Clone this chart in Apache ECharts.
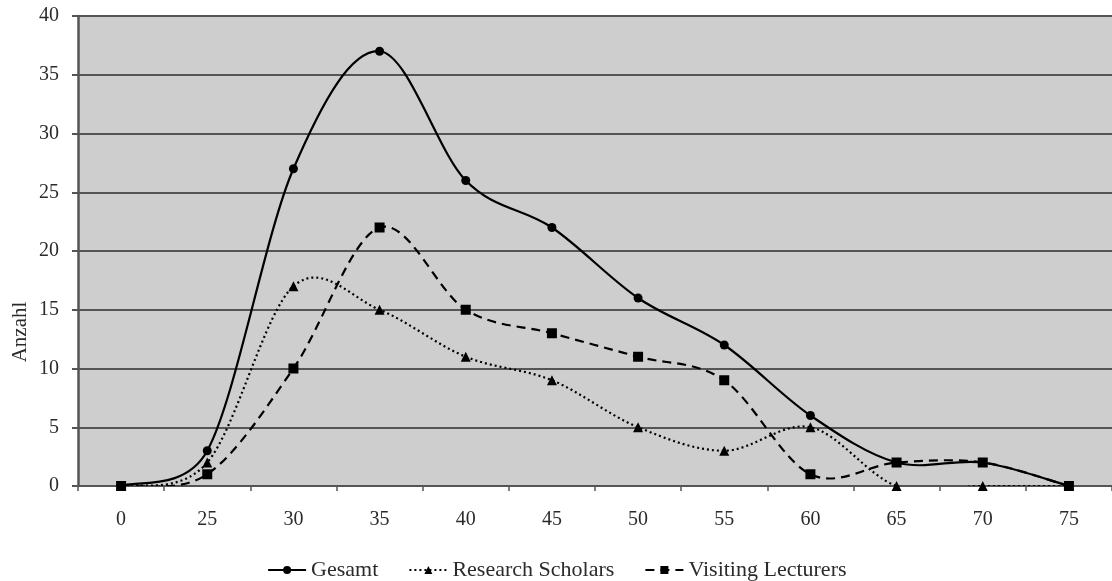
<!DOCTYPE html>
<html>
<head>
<meta charset="utf-8">
<script src="https://cdn.jsdelivr.net/npm/echarts@6/dist/echarts.min.js"></script>
<style>
  html, body { margin: 0; padding: 0; background: #ffffff; }
  #chart { width: 1112px; height: 581px; }
</style>
</head>
<body>
<div id="chart"></div>
<script>
// Age groups (Jahre) on the category axis
const ageGroups = ['0', '25', '30', '35', '40', '45', '50', '55', '60', '65', '70', '75'];

// Counts per age group
const gesamt            = [0, 3, 27, 37, 26, 22, 16, 12, 6, 2, 2, 0];
const researchScholars  = [0, 2, 17, 15, 11, 9, 5, 3, 5, 0, 0, 0];
const visitingLecturers = [0, 1, 10, 22, 15, 13, 11, 9, 1, 2, 2, 0];

const seriesNames = ['Gesamt', 'Research Scholars', 'Visiting Lecturers'];

const serif = '"Liberation Serif", "DejaVu Serif", serif';
const textColor = '#2b2b2b';
const gridColor = '#555555';
const lineWidth = 2.2;

const styles = [
  { symbol: 'circle',   size: 9,  dash: 'solid' },
  { symbol: 'triangle', size: 10, dash: [2, 3] },
  { symbol: 'rect',     size: 10, dash: [9, 6] }
];
const valueSets = [gesamt, researchScholars, visitingLecturers];

const chart = echarts.init(document.getElementById('chart'), null, { renderer: 'canvas' });

function dist(a, b) {
  return Math.hypot(a[0] - b[0], a[1] - b[1]);
}

// Smoothed curve through the series points: cubic Bezier segments with
// 1/6 tension, handles capped at half the segment length.
function curveRenderer(values, dash) {
  return function (params, api) {
    if (params.dataIndex !== 0) return null;
    const p = values.map((v, i) => api.coord([i, v]));
    const n = p.length;
    let d = 'M' + p[0][0] + ' ' + p[0][1];
    for (let i = 0; i < n - 1; i++) {
      const p0 = p[Math.max(i - 1, 0)];
      const p1 = p[i];
      const p2 = p[i + 1];
      const p3 = p[Math.min(i + 2, n - 1)];
      const d02 = dist(p0, p2);
      const d12 = dist(p1, p2);
      const d13 = dist(p1, p3);
      let f = 1 / 6;
      let g = 1 / 6;
      if (d02 / 6 >= d12 / 2 && d02 > 0) f = d12 / 2 / d02;
      if (d13 / 6 >= d12 / 2 && d13 > 0) g = d12 / 2 / d13;
      const c1x = p1[0] + f * (p2[0] - p0[0]);
      const c1y = p1[1] + f * (p2[1] - p0[1]);
      const c2x = p2[0] - g * (p3[0] - p1[0]);
      const c2y = p2[1] - g * (p3[1] - p1[1]);
      d += ' C' + c1x + ' ' + c1y + ' ' + c2x + ' ' + c2y + ' ' + p2[0] + ' ' + p2[1];
    }
    return {
      type: 'path',
      shape: { pathData: d },
      style: {
        stroke: '#000',
        fill: null,
        lineWidth: lineWidth,
        lineDash: dash === 'solid' ? null : dash
      },
      silent: true
    };
  };
}

const series = [];
valueSets.forEach((values, k) => {
  series.push({
    type: 'custom',
    name: seriesNames[k] + ' Kurve',
    data: values.map((v, i) => [i, v]),
    renderItem: curveRenderer(values, styles[k].dash),
    clip: true,
    z: 2
  });
});
valueSets.forEach((values, k) => {
  series.push({
    name: seriesNames[k],
    type: 'line',
    data: values,
    symbol: styles[k].symbol,
    symbolSize: styles[k].size,
    showAllSymbol: true,
    lineStyle: { color: '#000', width: lineWidth, type: styles[k].dash, opacity: 0 },
    itemStyle: { color: '#000', borderColor: '#000', borderWidth: 0 },
    emphasis: { disabled: true },
    z: 3
  });
});

chart.setOption({
  animation: false,
  backgroundColor: '#ffffff',
  textStyle: { fontFamily: serif, color: textColor },
  grid: {
    left: 78,
    top: 16,
    width: 1038,
    bottom: 95,
    show: true,
    backgroundColor: '#cecece',
    borderWidth: 0
  },
  legend: {
    data: seriesNames.map((name, k) => ({
      name: name,
      lineStyle: { color: '#000', width: lineWidth, type: styles[k].dash, opacity: 1 }
    })),
    left: 262,
    top: 554,
    itemWidth: 38,
    itemHeight: 10,
    itemGap: 30,
    textStyle: { fontFamily: serif, fontSize: 22, color: textColor },
    selectedMode: false
  },
  xAxis: {
    type: 'category',
    data: ageGroups,
    boundaryGap: true,
    axisLine: { show: true, lineStyle: { color: gridColor, width: 2 } },
    axisTick: { show: true, length: 5, inside: false, lineStyle: { color: gridColor, width: 1.5 } },
    axisLabel: { fontFamily: serif, fontSize: 20, color: textColor, margin: 24 },
    splitLine: { show: false }
  },
  yAxis: {
    type: 'value',
    min: 0,
    max: 40,
    interval: 5,
    axisLine: { show: true, lineStyle: { color: gridColor, width: 2.5 } },
    axisTick: { show: true, length: 6, lineStyle: { color: gridColor, width: 2 } },
    axisLabel: { fontFamily: serif, fontSize: 20, color: textColor, margin: 19 },
    splitLine: { show: true, lineStyle: { color: gridColor, width: 2 } }
  },
  graphic: [{
    type: 'text',
    x: 20,
    y: 332,
    rotation: Math.PI / 2,
    style: {
      text: 'Anzahl',
      font: '21px ' + serif,
      fill: textColor,
      align: 'center',
      verticalAlign: 'middle'
    }
  }],
  series: series
});
</script>
</body>
</html>
